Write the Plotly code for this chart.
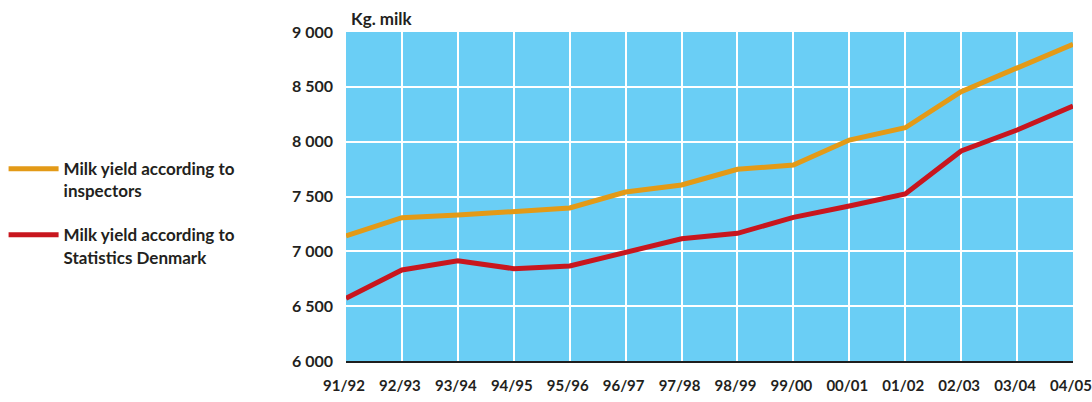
import plotly.graph_objects as go

# Milk yield per cow, kg per year
seasons = ["91/92", "92/93", "93/94", "94/95", "95/96", "96/97", "97/98",
           "98/99", "99/00", "00/01", "01/02", "02/03", "03/04", "04/05"]
inspectors = [7142, 7307, 7331, 7359, 7395, 7541, 7605,
              7748, 7787, 8015, 8127, 8456, 8669, 8888]
statistics_dk = [6572, 6830, 6915, 6842, 6866, 6994, 7115,
                 7164, 7310, 7413, 7523, 7915, 8106, 8325]

y_ticks = [6000, 6500, 7000, 7500, 8000, 8500, 9000]
y_tick_text = ["6 000", "6 500", "7 000", "7 500", "8 000", "8 500", "9 000"]

FONT = "Lato"
TEXT = "#231F20"

fig = go.Figure()
fig.add_trace(go.Scatter(
    x=seasons, y=inspectors, mode="lines",
    name="Milk yield according to<br>inspectors", legendgroup="insp",
    line=dict(color="#E39A17", width=5),
))
fig.add_trace(go.Scatter(
    x=seasons, y=statistics_dk, mode="lines",
    name="Milk yield according to<br>Statistics Denmark", legendgroup="dst",
    line=dict(color="#C8161E", width=5),
))

fig.update_layout(
    width=1092, height=402,
    margin=dict(l=346, r=19, t=32, b=41, autoexpand=False),
    paper_bgcolor="white",
    plot_bgcolor="#6ACEF5",
    font=dict(family=FONT, size=16, color=TEXT, weight="bold"),
    showlegend=True,
    legend=dict(
        x=-0.471, xanchor="left", y=0.638, yanchor="top",
        traceorder="grouped", valign="top",
        font=dict(family=FONT, size=17, color=TEXT, weight="bold"),
        tracegroupgap=19, itemwidth=50,
        bgcolor="rgba(0,0,0,0)",
    ),
    xaxis=dict(
        type="category", range=[0, len(seasons) - 1],
        showgrid=True, gridcolor="white", gridwidth=2,
        showline=True, linecolor="#1E1E1E", linewidth=2,
        ticks="", ticklabelstandoff=10, ticklabelshift=-2, automargin=False,
        tickfont=dict(family=FONT, size=15, color=TEXT, weight="bold"),
        zeroline=False, fixedrange=True,
    ),
    yaxis=dict(
        range=[6000, 9000],
        tickvals=y_ticks, ticktext=y_tick_text,
        showgrid=True, gridcolor="white", gridwidth=2,
        ticks="", ticklabelstandoff=12, automargin=False,
        tickfont=dict(family=FONT, size=16, color=TEXT, weight="bold"),
        zeroline=False, fixedrange=True,
    ),
    annotations=[dict(
        text="Kg. milk", xref="paper", yref="paper",
        x=0.004, y=1.0, xanchor="left", yanchor="bottom", yshift=1,
        showarrow=False,
        font=dict(family=FONT, size=17, color=TEXT, weight="bold"),
    )],
)

fig.write_html("out.html")
